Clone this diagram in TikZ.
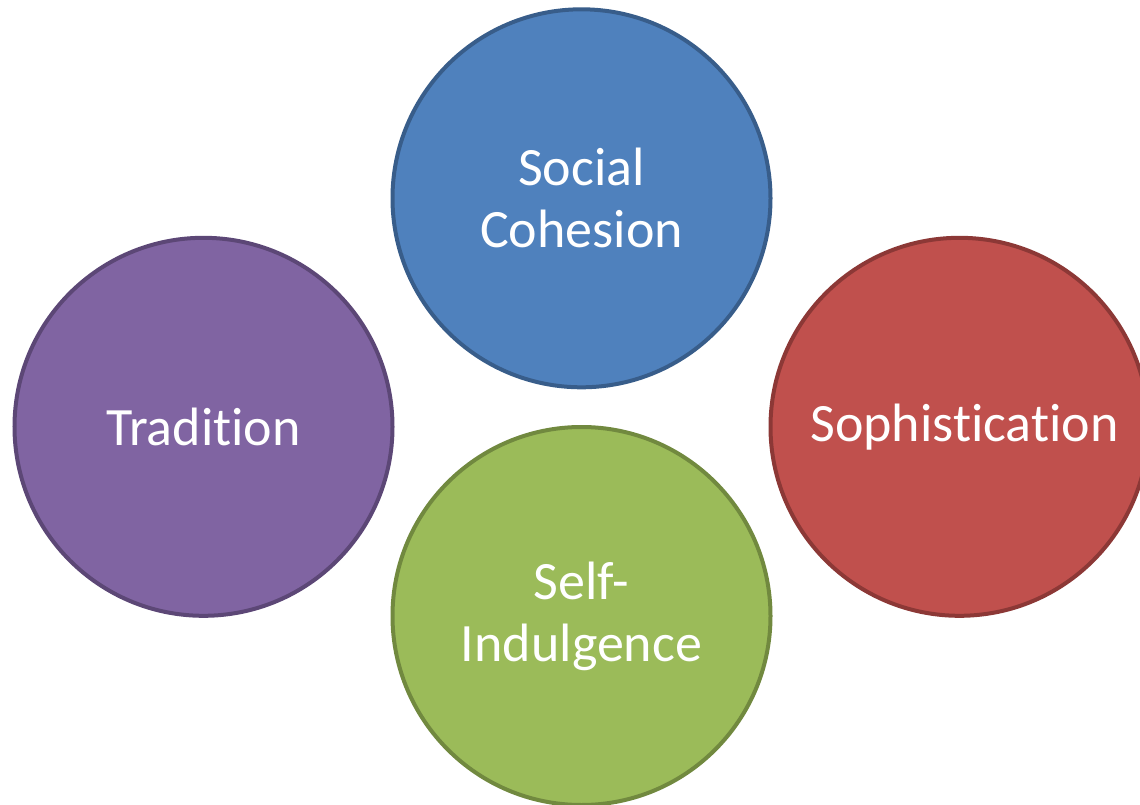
\documentclass[tikz,border=0pt]{standalone}
\usepackage{fontspec}
\setmainfont[RawFeature={-liga;-clig;-calt;-dlig}]{Carlito}
\usetikzlibrary{positioning}

\definecolor{blueFill}{HTML}{4F81BD}
\definecolor{blueLine}{HTML}{385D8A}
\definecolor{purpleFill}{HTML}{8064A2}
\definecolor{purpleLine}{HTML}{5C4776}
\definecolor{redFill}{HTML}{C0504D}
\definecolor{redLine}{HTML}{8C3836}
\definecolor{greenFill}{HTML}{9BBB59}
\definecolor{greenLine}{HTML}{71893F}

\begin{document}
\begin{tikzpicture}[
    x=1bp, y=1bp,
    bubble/.style={circle, minimum size=378bp, inner sep=0pt, line width=4bp,
                   text=white, align=center, font=\fontsize{54bp}{62bp}\selectfont}]
    \useasboundingbox (0,0) rectangle (1140,-805);
    \node[bubble, fill=blueFill, draw=blueLine]     (social) at (581.5,-198.3) {Social\\Cohesion};
    \node[bubble, fill=purpleFill, draw=purpleLine] (trad)   at (203.5,-426.8) {Tradition};
    \node[bubble, fill=redFill, draw=redLine]       (soph)   at (959.5,-426.8) {\hspace{10bp}Sophistication};
    \node[bubble, fill=greenFill, draw=greenLine]   (self)   at (581.5,-616)   {Self-\\Indulgence};
  \end{tikzpicture}
\end{document}
